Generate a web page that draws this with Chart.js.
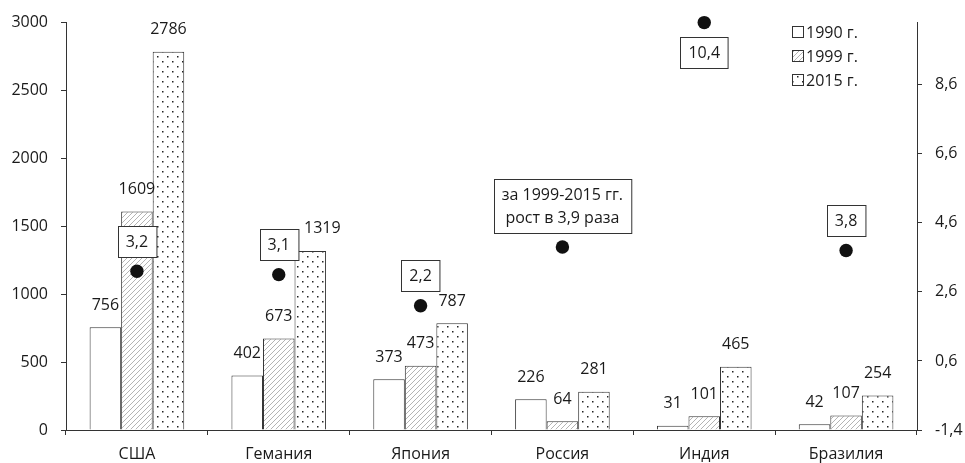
<!DOCTYPE html>
<html>
<head>
<meta charset="utf-8">
<script src="https://cdn.jsdelivr.net/npm/chart.js@4"></script>
<style>
  body { margin: 0; background: #fff; }
  canvas { display: block; }
</style>
</head>
<body>
<canvas id="chart" width="965" height="463"></canvas>
<script>
// Data
const categories = ['США', 'Гемания', 'Япония', 'Россия', 'Индия', 'Бразилия'];
const seriesNames = ['1990 г.', '1999 г.', '2015 г.'];
const values1990 = [756, 402, 373, 226, 31, 42];
const values1999 = [1609, 673, 473, 64, 101, 107];
const values2015 = [2786, 1319, 787, 281, 465, 254];
const growthRatio = [3.2, 3.1, 2.2, 3.9, 10.4, 3.8];
const ratioLabels = ['3,2', '3,1', '2,2', ['за 1999-2015 гг.', 'рост в 3,9 раза'], '10,4', '3,8'];
const leftTicks = [0, 500, 1000, 1500, 2000, 2500, 3000];
const rightTicks = [-1.4, 0.6, 2.6, 4.6, 6.6, 8.6];

const FONT = "'Open Sans', sans-serif";
const textColor = '#1a1a1a';
const lineColor = '#333';

// Fill patterns
function makeHatch() {
  const c = document.createElement('canvas');
  c.width = c.height = 5;
  const g = c.getContext('2d');
  g.fillStyle = '#fff';
  g.fillRect(0, 0, 5, 5);
  g.strokeStyle = '#b4b4b4';
  g.lineWidth = 1;
  g.beginPath();
  g.moveTo(0, 5); g.lineTo(5, 0);
  g.moveTo(-1, 1); g.lineTo(1, -1);
  g.moveTo(4, 6); g.lineTo(6, 4);
  g.stroke();
  return g.createPattern(c, 'repeat');
}

function makeDots() {
  const c = document.createElement('canvas');
  c.width = c.height = 10;
  const g = c.getContext('2d');
  g.fillStyle = '#fff';
  g.fillRect(0, 0, 10, 10);
  g.fillStyle = '#222';
  g.fillRect(2, 1, 1.5, 1.5);
  g.fillRect(7, 6, 1.5, 1.5);
  return g.createPattern(c, 'repeat');
}

const fills = ['#fff', makeHatch(), makeDots()];
const barSeries = [values1990, values1999, values2015];

// hand-moved label (Germany 2015)
const labelNudge = { '2-1': 12 };

const annotate = {
  id: 'annotate',
  afterDatasetsDraw(chart) {
    const ctx = chart.ctx;
    ctx.save();
    ctx.font = '16px ' + FONT;
    ctx.fillStyle = textColor;
    ctx.textAlign = 'center';
    ctx.textBaseline = 'middle';

    // bar values
    barSeries.forEach((vals, i) => {
      chart.getDatasetMeta(i).data.forEach((bar, j) => {
        const dx = labelNudge[i + '-' + j] || 0;
        ctx.fillText(String(vals[j]), bar.x + dx, bar.y - 22);
      });
    });

    // ratio boxes
    const area = chart.chartArea;
    chart.getDatasetMeta(3).data.forEach((pt, j) => {
      const lines = [].concat(ratioLabels[j]);
      const w = Math.max(...lines.map(l => ctx.measureText(l).width)) + 16;
      const h = lines.length * 23 + 8;
      let top = pt.y - 14.5 - h;
      if (top < area.top) top = pt.y + 14.5;
      const left = Math.round(pt.x - w / 2) + 0.5;
      top = Math.round(top) + 0.5;
      ctx.fillStyle = '#fff';
      ctx.fillRect(left, top, w, h);
      ctx.strokeStyle = lineColor;
      ctx.lineWidth = 1;
      ctx.strokeRect(left, top, w, h);
      ctx.fillStyle = textColor;
      lines.forEach((l, k) => {
        ctx.fillText(l, pt.x, top + 4 + 11.5 + k * 23);
      });
    });

    // legend
    ctx.textAlign = 'left';
    seriesNames.forEach((name, i) => {
      const y = 32 + i * 24;
      ctx.fillStyle = fills[i];
      ctx.fillRect(792.5, y - 5.5, 11, 11);
      ctx.strokeStyle = lineColor;
      ctx.strokeRect(792.5, y - 5.5, 11, 11);
      ctx.fillStyle = textColor;
      ctx.fillText(name, 806, y + 1);
    });
    ctx.restore();
  }
};

const barDatasets = barSeries.map((vals, i) => ({
  type: 'bar',
  label: seriesNames[i],
  data: vals,
  yAxisID: 'y',
  backgroundColor: fills[i],
  borderColor: lineColor,
  borderWidth: 1,
  categoryPercentage: 0.667,
  barPercentage: 1,
  order: 2
}));

new Chart(document.getElementById('chart'), {
  data: {
    labels: categories,
    datasets: [
      ...barDatasets,
      {
        type: 'line',
        label: 'рост',
        data: growthRatio,
        yAxisID: 'y1',
        showLine: false,
        clip: false,
        pointRadius: 6.7,
        pointBackgroundColor: '#111',
        pointBorderWidth: 0,
        order: 1
      }
    ]
  },
  options: {
    responsive: false,
    animation: false,
    layout: { padding: { top: 21, left: 0, right: 0, bottom: 0 } },
    plugins: {
      legend: { display: false },
      tooltip: { enabled: false }
    },
    scales: {
      x: {
        grid: { drawOnChartArea: false, tickLength: 5, color: lineColor, offset: true },
        border: { color: lineColor },
        ticks: { font: { family: FONT, size: 16 }, color: textColor, padding: 10 },
        afterFit: s => { s.height = 33; }
      },
      y: {
        position: 'left',
        min: 0,
        max: 3000,
        afterBuildTicks: s => { s.ticks = leftTicks.map(v => ({ value: v })); },
        grid: { drawOnChartArea: false, tickLength: 5, color: lineColor },
        border: { color: lineColor },
        ticks: {
          font: { family: FONT, size: 16 },
          color: textColor,
          padding: 13,
          callback: v => String(v)
        },
        afterFit: s => { s.width = 66; }
      },
      y1: {
        position: 'right',
        min: -1.4,
        max: 10.4,
        afterBuildTicks: s => { s.ticks = rightTicks.map(v => ({ value: v })); },
        grid: { drawOnChartArea: false, tickLength: 5, color: lineColor },
        border: { color: lineColor },
        ticks: {
          font: { family: FONT, size: 16 },
          color: textColor,
          padding: 13,
          callback: v => v.toFixed(1).replace('.', ',')
        },
        afterFit: s => { s.width = 48; }
      }
    }
  },
  plugins: [annotate]
});
</script>
</body>
</html>
